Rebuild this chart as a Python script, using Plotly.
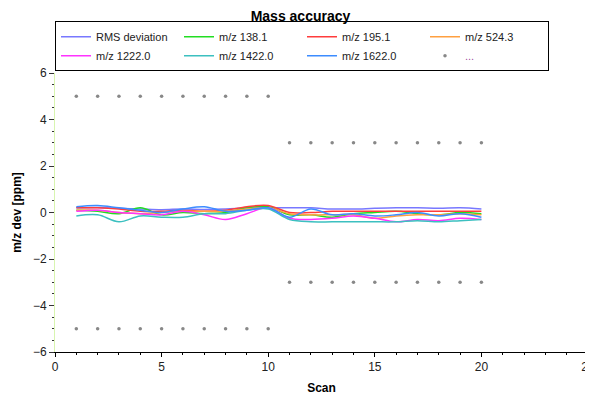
import plotly.graph_objects as go

scans = list(range(1, 21))

rms_dev = [0.20, 0.22, 0.18, 0.15, 0.12, 0.15, 0.13, 0.15, 0.20, 0.22,
           0.20, 0.20, 0.15, 0.15, 0.18, 0.20, 0.20, 0.18, 0.20, 0.15]
mz_138 = [0.10, 0.05, -0.05, 0.20, -0.10, 0.00, -0.05, 0.00, 0.20, 0.25,
          -0.10, -0.10, -0.20, -0.05, 0.00, 0.05, -0.05, -0.10, 0.00, -0.05]
mz_195 = [0.20, 0.20, 0.15, 0.05, 0.05, 0.10, 0.05, 0.10, 0.25, 0.30,
          0.00, 0.00, 0.05, 0.05, 0.05, 0.05, 0.05, 0.05, 0.05, 0.05]
mz_524 = [0.10, 0.10, 0.00, -0.05, 0.00, 0.05, 0.05, 0.05, 0.15, 0.20,
          -0.05, -0.10, -0.10, -0.10, -0.25, -0.15, -0.10, -0.10, -0.05, -0.10]
mz_1222 = [0.05, 0.10, 0.00, -0.05, -0.10, 0.05, -0.10, -0.30, -0.05, 0.20,
           -0.25, -0.30, -0.25, -0.15, -0.25, -0.40, -0.30, -0.35, -0.25, -0.30]
mz_1422 = [-0.15, -0.10, -0.40, -0.15, -0.20, -0.20, -0.05, -0.05, 0.10, 0.15,
           -0.30, -0.40, -0.40, -0.40, -0.40, -0.40, -0.35, -0.40, -0.35, -0.30]
mz_1622 = [0.25, 0.30, 0.20, 0.10, 0.00, 0.15, 0.25, 0.05, 0.10, 0.20,
           -0.20, 0.15, -0.10, -0.05, -0.15, -0.10, 0.00, -0.15, -0.05, -0.20]

tol_upper = [5, 5, 5, 5, 5, 5, 5, 5, 5, 5, 3, 3, 3, 3, 3, 3, 3, 3, 3, 3]
tol_lower = [-5, -5, -5, -5, -5, -5, -5, -5, -5, -5, -3, -3, -3, -3, -3, -3, -3, -3, -3, -3]

series = [
    ("RMS deviation", rms_dev, "#7878ff"),
    ("m/z 138.1", mz_138, "#22dd22"),
    ("m/z 195.1", mz_195, "#ff3c3c"),
    ("m/z 524.3", mz_524, "#ffa040"),
    ("m/z 1222.0", mz_1222, "#ff33ff"),
    ("m/z 1422.0", mz_1422, "#3cc0c0"),
    ("m/z 1622.0", mz_1622, "#3c8cff"),
]

fig = go.Figure()
for name, vals, col in series:
    fig.add_trace(go.Scatter(x=scans, y=vals, name=name, mode="lines",
                             line=dict(color=col, width=1.5, shape="spline")))

fig.add_trace(go.Scatter(
    x=scans + scans, y=tol_upper + tol_lower, mode="markers",
    name="<span style='color:#a050a0'>...</span>",
    marker=dict(color="#888888", size=3.5, symbol="circle")))

font = "Liberation Sans, Arial, sans-serif"
fig.update_layout(
    width=585, height=390,
    margin=dict(l=47, r=5, t=65, b=46, autoexpand=False),
    plot_bgcolor="white", paper_bgcolor="white",
    font=dict(family=font, size=12, color="#222222"),
    title=dict(text="<b>Mass accuracy</b>", x=0.5, xanchor="center",
               y=0.978, yanchor="middle", font=dict(size=14, color="black")),
    showlegend=True,
    legend=dict(orientation="h", x=0.0, xanchor="left", y=1.006, yanchor="bottom",
                bordercolor="black", borderwidth=1, bgcolor="white",
                entrywidth=78, font=dict(size=11, color="#222222"),
                tracegroupgap=0),
    xaxis=dict(range=[0, 25], tickvals=[0, 5, 10, 15, 20, 25], showgrid=False,
               zeroline=False, showline=True, linecolor="black", linewidth=1,
               ticks="outside", ticklen=4, tickcolor="black",
               ticklabeloverflow="allow",
               minor=dict(dtick=1, ticks="outside", ticklen=2, tickcolor="black"),
               title=dict(text="<b>Scan</b>", standoff=10, font=dict(size=12, color="black")),
               tickfont=dict(size=12, color="#222222")),
    yaxis=dict(range=[-6, 6], tickvals=[-6, -4, -2, 0, 2, 4, 6], showgrid=False,
               zeroline=False, showline=True, linecolor="#d8f5b0", linewidth=1,
               ticks="outside", ticklen=5, tickcolor="#333333",
               minor=dict(dtick=0.5, ticks="outside", ticklen=2, tickcolor="#333333"),
               title=dict(text="<b>m/z dev [ppm]</b>", standoff=8, font=dict(size=12, color="black")),
               tickfont=dict(size=12, color="#222222")),
)

fig.write_html("out.html")
